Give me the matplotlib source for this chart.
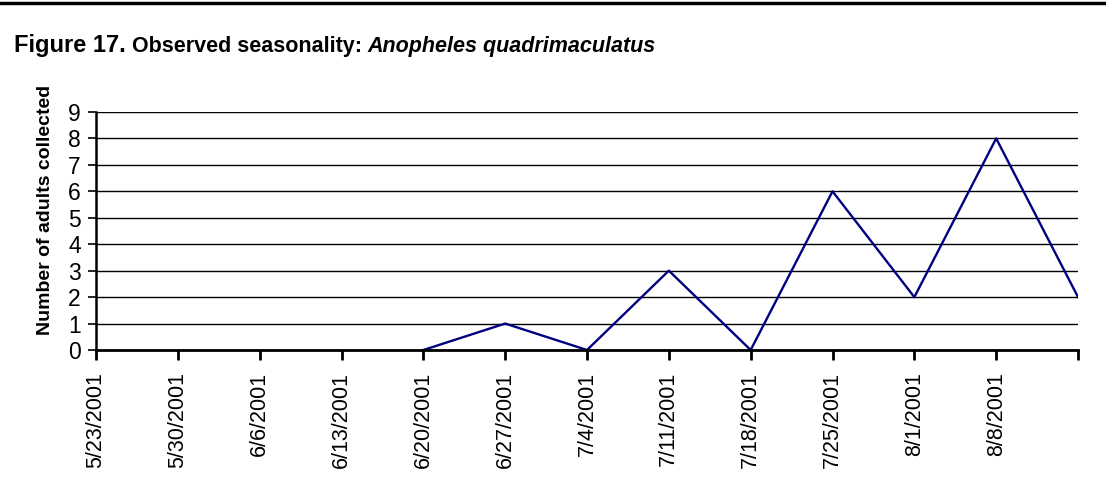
import numpy as np
import matplotlib
matplotlib.use("Agg")
from matplotlib import pyplot as plt
from matplotlib.lines import Line2D

plt.rcParams['font.family'] = ['Liberation Sans', 'DejaVu Sans']

dates = ["5/23/2001", "5/30/2001", "6/6/2001", "6/13/2001", "6/20/2001",
         "6/27/2001", "7/4/2001", "7/11/2001", "7/18/2001", "7/25/2001",
         "8/1/2001", "8/8/2001", "8/15/2001"]
shown_labels = dates[:-1] + [""]
adults = [np.nan, np.nan, np.nan, np.nan, 0, 1, 0, 3, 0, 6, 2, 8, 2]
y_ticks = list(range(0, 10))

fig = plt.figure(figsize=(11.06, 4.92), dpi=100)
ax = fig.add_axes([0.0868, 0.2886, 0.9747 - 0.0868, 0.7724 - 0.2886])

x = np.arange(len(dates))
ax.plot(x, adults, color="#000080", lw=1.7)

ax.set_xlim(0, len(dates) - 1)
ax.set_ylim(0, 9)
ax.set_yticks(y_ticks)
ax.set_xticks(x)
ax.set_xticklabels(shown_labels, rotation=90, fontsize=15.5, va="top", ha="center")
ax.tick_params(axis="y", labelsize=16.5, length=6, width=1.2, pad=5, direction="out")
ax.tick_params(axis="x", length=7, width=2, pad=9, direction="out")
ax.grid(axis="y", color="black", lw=1)
ax.set_axisbelow(True)
for s in ["top", "right"]:
    ax.spines[s].set_visible(False)
ax.spines["left"].set_linewidth(1.8)
ax.spines["bottom"].set_linewidth(2)
ax.set_ylabel("Number of adults collected", fontsize=14, fontweight="bold")
ax.yaxis.set_label_coords(-0.043, 0.59)

# header rule across the top of the page
fig.add_artist(Line2D([0, 1], [0.993, 0.993], color="black", lw=2.5, transform=fig.transFigure))

t1 = fig.text(0.013, 0.895, "Figure 17.", fontsize=17, fontweight="bold", va="baseline")
fig.canvas.draw()
bb = t1.get_window_extent()
x1 = bb.x1 / fig.bbox.width + 0.005
t2 = fig.text(x1, 0.895, "Observed seasonality: ", fontsize=15.5, fontweight="bold", va="baseline")
fig.canvas.draw()
bb2 = t2.get_window_extent()
x2 = bb2.x1 / fig.bbox.width
fig.text(x2, 0.895, "Anopheles quadrimaculatus", fontsize=15.5, fontweight="bold",
         style="italic", va="baseline")

fig.savefig("out.png", dpi=100)
